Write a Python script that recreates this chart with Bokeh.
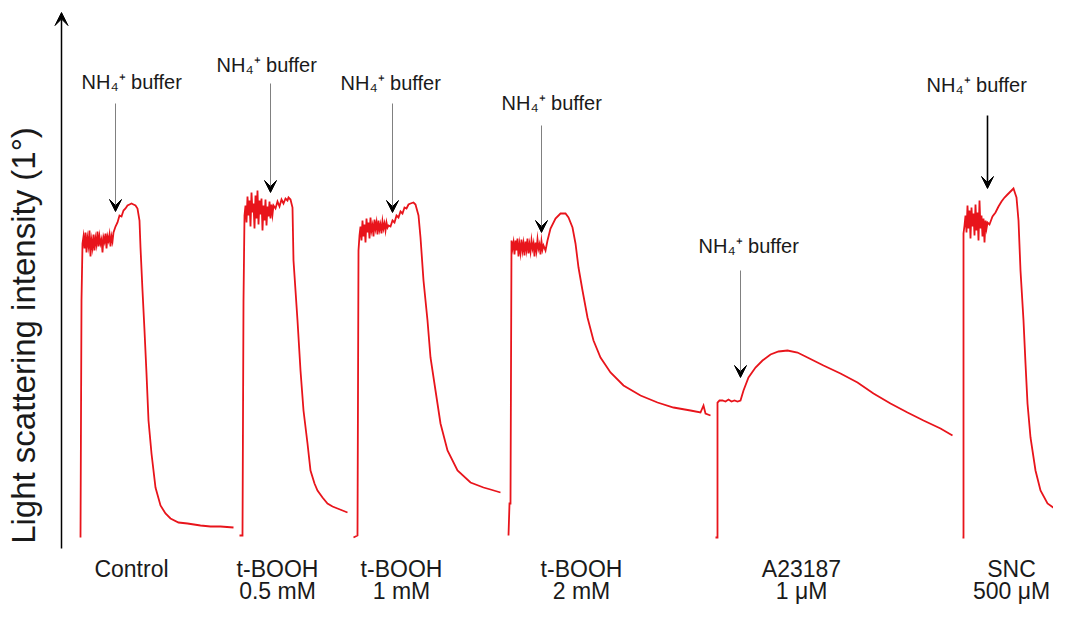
import math
from bokeh.plotting import figure
from bokeh.models import Range1d, Arrow, VeeHead, Label, ColumnDataSource
from bokeh.embed import file_html
from bokeh.resources import INLINE
from bokeh.core.properties import value

# ---- data: time (a.u.) and light-scattering intensity (a.u.) per trace ----
control_t = [80, 81, 82, 83, 84, 85, 86, 87, 88, 89, 90, 91, 92, 93, 94, 95, 96, 97, 98, 99,
             100, 101, 102, 103, 104, 105, 106, 107, 108, 109, 110, 111, 112, 113,
             115, 117, 119, 121, 123, 125, 127, 129, 131, 133, 135, 137, 139, 140, 142, 144,
             146, 148, 151, 155, 160, 165, 170, 178, 187, 200, 210, 220, 233]
control_i = [8, 245, 302, 309, 297, 313, 293, 307, 300, 315, 289, 305, 298, 311, 295, 307, 301, 314, 299, 309,
             302, 306, 293, 308, 304, 312, 297, 309, 305, 311, 299, 309, 304, 313,
             319, 323, 330, 329, 335, 337, 340, 341, 342, 341, 340, 337, 325, 298, 255, 215,
             172, 125, 92, 58, 40, 32, 27, 23, 22, 20, 19, 19, 18]

tb05_t = [239, 242, 243, 244, 245, 246, 247, 248, 249, 250, 251, 252, 253, 254, 255, 256, 257, 258, 259,
          260, 261, 262, 263, 264, 265, 266, 267, 268, 269, 270, 271, 272, 273,
          275, 277, 279, 281, 283, 285, 287, 288, 290, 292, 293, 297, 300, 303, 307, 310, 314, 317,
          322, 327, 332, 337, 342, 347]
tb05_i = [10, 10, 245, 330, 340, 323, 349, 330, 345, 319, 353, 333, 342, 317, 350, 327, 355, 321, 345,
          331, 347, 315, 340, 325, 346, 320, 339, 329, 344, 327, 341, 331, 340,
          337, 344, 339, 346, 342, 347, 345, 348, 346, 338, 285, 225, 175, 135, 102, 75, 62, 55,
          48, 42, 39, 37, 35, 33]

tb1_t = [353, 357, 358, 359, 360, 361, 362, 363, 364, 365, 366, 367, 368, 369, 370, 371, 372, 373, 374,
         375, 376, 377, 378, 379, 380, 381, 382, 383, 384, 385, 386, 387, 388,
         390, 392, 394, 396, 398, 400, 402, 404, 406, 408, 410, 413, 415, 418, 420, 423, 427, 430,
         435, 440, 447, 457, 470, 483, 490, 500]
tb1_i = [8, 10, 295, 310, 319, 305, 325, 309, 321, 303, 327, 313, 323, 307, 328, 315, 320, 309, 326,
         317, 323, 311, 325, 316, 321, 312, 324, 317, 322, 315, 323, 318, 320,
         319, 325, 323, 330, 328, 334, 332, 338, 337, 341, 342, 343, 341, 330, 308, 265, 225, 188,
         155, 122, 95, 75, 63, 58, 56, 53]

tb2_t = [508, 509, 510, 511, 512, 513, 514, 515, 516, 517, 518, 519, 520, 521, 522, 523, 524, 525, 526,
         527, 528, 529, 530, 531, 532, 533, 534, 535, 536, 537, 538, 539, 540, 541, 542, 543,
         545, 547, 550, 555, 560, 565, 568, 572, 575, 578, 582, 587, 593, 600, 610, 623, 640,
         657, 673, 690, 700, 703, 705, 710]
tb2_i = [10, 42, 42, 305, 297, 303, 291, 305, 295, 307, 289, 301, 293, 306, 295, 302, 290, 304, 296,
         307, 292, 301, 294, 305, 297, 302, 289, 303, 295, 306, 297, 301, 291, 304, 296, 300,
         295, 305, 317, 327, 332, 332, 328, 318, 302, 278, 255, 228, 205, 188, 173, 160, 150,
         143, 138, 135, 133, 140, 132, 130]

a23_t = [715, 717, 717, 719, 722, 725, 728, 731, 734, 737, 740, 743, 748, 755, 762, 770, 778, 787,
         797, 807, 823, 840, 857, 873, 890, 907, 923, 940, 952]
a23_i = [8, 8, 143, 145, 145, 144, 146, 144, 145, 144, 145, 155, 168, 178, 185, 191, 194, 195,
         193, 188, 180, 172, 163, 152, 142, 133, 125, 117, 110]

snc_t = [962, 963, 963, 964, 965, 966, 967, 968, 969, 970, 971, 972, 973, 974, 975, 976, 977, 978,
         979, 980, 981, 982, 983, 984, 985, 986, 987, 989, 992, 995, 998, 1001, 1004, 1007, 1010,
         1012, 1013, 1015, 1016, 1018, 1020, 1023, 1025, 1027, 1030, 1035, 1040, 1047, 1057, 1069]
snc_i = [8, 8, 312, 320, 330, 313, 340, 317, 335, 307, 338, 319, 332, 310, 341, 315, 333, 305,
         345, 317, 330, 309, 327, 303, 325, 317, 323, 321, 329, 333, 339, 344, 348, 351, 354,
         356, 357, 351, 348, 325, 275, 225, 182, 142, 108, 75, 55, 42, 35, 30]

# category labels (two lines) and their positions along the time axis
labels_line1 = ["Control", "t-BOOH", "t-BOOH", "t-BOOH", "A23187", "SNC"]
labels_line2 = ["", "0.5 mM", "1 mM", "2 mM", "1 μM", "500 μM"]
label_t = [131, 277, 401, 581, 801, 1011]

# NH4+ buffer additions: time of addition, arrow tip / top, text anchor
buffer_t = [115, 270, 392, 541, 740, 987]
arrow_tip = [334, 353, 333, 313, 168, 357]
arrow_top = [442, 462, 442, 420, 275, 430]
text_left = [81, 216, 340, 501, 698, 926]
text_base = [464, 481, 463, 443, 300, 461]

# ---- figure ----
W, H = 1053, 608
p = figure(width=W, height=H, output_backend="svg", toolbar_location=None,
           x_range=Range1d(0, W), y_range=Range1d(545 - H, 545),
           x_axis_type=None, y_axis_type=None, min_border=0)
p.grid.visible = False
p.outline_line_color = None
p.background_fill_color = "white"
p.border_fill_color = "white"

RED = "#e8141b"
for t, i in [(control_t, control_i), (tb05_t, tb05_i), (tb1_t, tb1_i),
             (tb2_t, tb2_i), (a23_t, a23_i), (snc_t, snc_i)]:
    p.line(t, i, line_color=RED, line_width=1.8, line_join="miter")

# y axis arrow
p.add_layout(Arrow(end=VeeHead(size=13, fill_color="black", line_color="black"),
                   x_start=61, y_start=-3, x_end=61, y_end=533,
                   line_color="black", line_width=1.5))

p.add_layout(Label(x=23, y=210, text="Light scattering intensity (1°)", angle=math.pi / 2,
                   text_align="center", text_baseline="middle",
                   text_font="Liberation Sans", text_font_size="33px", text_color="#1a1a1a"))

# NH4+ buffer arrows
for k in range(len(buffer_t)):
    last = k == len(buffer_t) - 1
    p.add_layout(Arrow(end=VeeHead(size=12, fill_color="black", line_color="black"),
                       x_start=buffer_t[k], y_start=arrow_top[k],
                       x_end=buffer_t[k], y_end=arrow_tip[k],
                       line_color="black" if last else "#808080",
                       line_width=1.6 if last else 1))

src = ColumnDataSource(dict(x=text_left, y=text_base, t=["NH₄⁺ buffer"] * len(text_left)))
p.text(x="x", y="y", text="t", source=src, text_font=value("Liberation Sans"),
       text_font_size="20px", text_color="#1a1a1a", text_align="left", text_baseline="alphabetic")

lab = ColumnDataSource(dict(x=label_t, y1=[-23] * 6, y2=[-45] * 6, l1=labels_line1, l2=labels_line2))
p.text(x="x", y="y1", text="l1", source=lab, text_font=value("Liberation Sans"),
       text_font_size="23px", text_color="#1a1a1a", text_align="center", text_baseline="alphabetic")
p.text(x="x", y="y2", text="l2", source=lab, text_font=value("Liberation Sans"),
       text_font_size="23px", text_color="#1a1a1a", text_align="center", text_baseline="alphabetic")

open("out.html", "w").write(file_html(p, INLINE))
